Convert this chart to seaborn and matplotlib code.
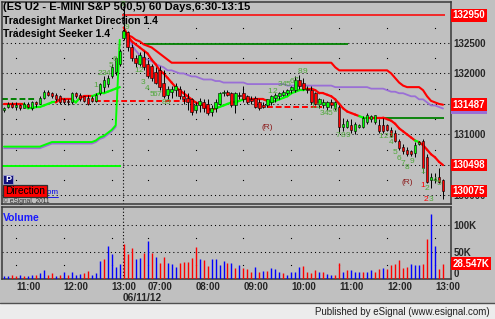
import numpy as np
import pandas as pd
import matplotlib
matplotlib.use("Agg")
import matplotlib.pyplot as plt
import matplotlib.transforms as mtrans
from matplotlib.patches import Rectangle
import seaborn as sns

sns.set_style("white")
plt.rcParams["font.family"] = ["Liberation Sans", "DejaVu Sans"]

# ---------------- data (ES U2 5-min bars, price in index points) ----------------
times = pd.date_range("2012-06-08 10:45", "2012-06-08 13:10", freq="5min").append(
    pd.date_range("2012-06-11 06:30", "2012-06-11 13:10", freq="5min"))

open_ = [1314.0, 1314.5, 1315.0, 1314.5, 1314.75, 1314.25, 1315.0, 1314.25, 1315.25, 1315.0,
         1316.0, 1317.0, 1316.75, 1316.5, 1316.25, 1315.75, 1315.5, 1315.25, 1316.75, 1316.5,
         1316.25, 1316.0, 1316.0, 1315.5, 1316.75, 1317.75, 1318.25, 1319.5, 1320.25, 1321.5,
         1325.75, 1326.75, 1324.25, 1322.5, 1321.5, 1322.75, 1321.5, 1321.25, 1320.25, 1320.5,
         1318.5, 1316.5, 1317.0, 1317.25, 1317.5, 1316.25, 1316.0, 1315.75, 1314.0, 1314.75,
         1315.25, 1315.0, 1313.75, 1314.25, 1315.0, 1316.75, 1317.0, 1316.75, 1314.75, 1316.5,
         1316.75, 1316.25, 1315.75, 1316.0, 1315.25, 1314.75, 1314.75, 1315.25, 1316.0, 1316.25,
         1316.5, 1316.75, 1317.25, 1317.25, 1319.0, 1318.5, 1317.5, 1317.25, 1316.75, 1315.0,
         1314.75, 1314.5, 1315.25, 1314.25, 1314.5, 1311.25, 1311.25, 1311.5, 1310.5, 1311.25,
         1311.25, 1312.0, 1312.5, 1312.0, 1311.5, 1311.5, 1311.5, 1310.75, 1310.25, 1309.0,
         1308.0, 1307.5, 1307.25, 1307.0, 1308.5, 1309.0, 1306.25, 1302.5, 1302.5, 1303.0,
         1302.5]
high = [1314.5, 1315.25, 1315.25, 1315.25, 1315.0, 1315.25, 1315.25, 1315.5, 1315.5, 1316.25,
        1317.25, 1317.25, 1317.0, 1316.75, 1316.5, 1316.0, 1315.75, 1317.0, 1317.0, 1316.75,
        1316.25, 1316.5, 1316.25, 1316.75, 1318.5, 1319.5, 1319.75, 1321.5, 1322.75, 1324.0,
        1331.5, 1327.0, 1324.75, 1323.0, 1323.5, 1323.75, 1322.25, 1321.5, 1321.0, 1321.25,
        1320.5, 1318.0, 1318.0, 1318.5, 1318.0, 1317.25, 1316.75, 1316.0, 1315.25, 1316.0,
        1315.75, 1315.75, 1314.75, 1315.75, 1317.0, 1317.25, 1317.25, 1317.0, 1317.0, 1317.0,
        1318.0, 1316.5, 1316.25, 1316.25, 1315.75, 1315.25, 1315.75, 1316.5, 1316.75, 1317.0,
        1317.25, 1317.5, 1318.0, 1319.5, 1319.75, 1319.25, 1318.0, 1318.0, 1317.0, 1316.0,
        1315.75, 1315.5, 1315.75, 1315.5, 1314.75, 1312.75, 1312.5, 1312.5, 1312.0, 1311.75,
        1313.0, 1313.5, 1313.25, 1313.25, 1312.5, 1312.75, 1311.75, 1311.25, 1310.75, 1309.25,
        1308.5, 1308.0, 1307.5, 1308.75, 1309.0, 1309.25, 1306.75, 1303.75, 1303.75, 1304.5,
        1302.75]
low = [1313.75, 1314.25, 1314.25, 1314.0, 1314.0, 1314.25, 1314.25, 1314.0, 1314.5, 1315.0,
       1315.75, 1316.25, 1316.0, 1315.5, 1315.0, 1315.0, 1314.75, 1315.0, 1316.0, 1315.5,
       1315.25, 1314.75, 1315.25, 1315.25, 1316.5, 1317.0, 1317.75, 1319.25, 1319.75, 1321.25,
       1325.5, 1323.75, 1322.0, 1321.0, 1321.25, 1320.5, 1319.25, 1318.75, 1318.25, 1317.25,
       1316.0, 1315.75, 1316.0, 1316.25, 1315.75, 1315.0, 1314.0, 1313.25, 1313.5, 1313.75,
       1313.75, 1313.25, 1313.0, 1313.75, 1314.75, 1316.25, 1316.25, 1314.5, 1313.5, 1315.75,
       1315.25, 1315.0, 1315.0, 1314.25, 1314.0, 1314.25, 1314.5, 1314.75, 1315.25, 1315.75,
       1316.25, 1316.5, 1316.75, 1317.0, 1317.5, 1317.25, 1316.75, 1315.0, 1314.75, 1314.25,
       1314.25, 1314.0, 1314.25, 1314.0, 1310.25, 1310.5, 1311.0, 1310.25, 1310.0, 1311.0,
       1311.0, 1311.75, 1312.0, 1311.75, 1310.25, 1310.25, 1310.5, 1309.5, 1308.75, 1307.5,
       1306.75, 1306.5, 1306.5, 1306.25, 1308.25, 1303.75, 1302.0, 1301.25, 1302.0, 1302.0,
       1299.5]
close = [1314.25, 1315.0, 1314.5, 1314.75, 1314.25, 1315.0, 1314.5, 1315.25, 1315.0, 1316.0,
         1317.0, 1316.5, 1316.25, 1315.75, 1315.25, 1315.25, 1315.25, 1316.75, 1316.25, 1315.75,
         1315.5, 1315.0, 1315.5, 1316.5, 1318.25, 1319.0, 1319.25, 1321.0, 1322.5, 1323.75,
         1327.0, 1324.25, 1322.5, 1321.75, 1323.0, 1321.0, 1319.5, 1319.25, 1318.5, 1317.75,
         1316.25, 1317.5, 1317.5, 1318.0, 1316.25, 1315.75, 1315.25, 1313.75, 1314.75, 1315.5,
         1314.25, 1313.5, 1314.25, 1315.25, 1316.75, 1317.0, 1316.5, 1314.75, 1316.75, 1316.25,
         1315.75, 1315.25, 1315.5, 1314.5, 1314.25, 1314.5, 1315.75, 1316.25, 1316.5, 1316.75,
         1317.0, 1317.25, 1317.75, 1319.0, 1318.0, 1317.5, 1317.25, 1315.25, 1315.0, 1315.75,
         1315.25, 1315.25, 1314.75, 1315.25, 1311.25, 1311.75, 1312.25, 1310.75, 1311.75, 1311.5,
         1312.75, 1313.25, 1313.0, 1313.25, 1310.5, 1310.5, 1310.75, 1309.75, 1309.0, 1307.75,
         1307.25, 1306.75, 1306.75, 1308.25, 1308.75, 1304.5, 1302.25, 1303.0, 1302.75, 1302.25,
         1300.75]

# volume in thousands, and bar direction (u = blue, d = red)
volume_k = [5.6, 5.6, 7.4, 5.6, 6.8, 5.6, 5.6, 6.8, 7.4, 11.7,
            16.7, 6.8, 11.7, 5.6, 6.8, 13.0, 7.4, 13.0, 6.8, 8.6,
            11.7, 14.8, 7.4, 11.7, 33.3, 37.6, 61.0, 46.9, 22.8, 27.0,
            65.4, 46.9, 56.8, 36.4, 39.5, 48.7, 70.3, 48.7, 41.3, 30.2,
            41.3, 30.2, 28.4, 22.2, 30.2, 31.5, 31.5, 39.5, 59.8, 37.6,
            34.6, 24.0, 36.4, 36.4, 26.0, 33.3, 29.0, 29.0, 19.7, 25.3,
            21.0, 19.0, 13.0, 22.0, 13.0, 14.8, 14.8, 19.7, 17.9, 13.0,
            11.7, 6.8, 13.0, 13.6, 22.8, 24.0, 13.0, 11.7, 16.7, 13.0,
            13.6, 9.9, 6.8, 7.4, 30.2, 13.0, 16.0, 16.7, 13.6, 13.0,
            13.0, 13.6, 16.7, 13.6, 19.0, 21.0, 17.9, 25.3, 27.0, 35.2,
            21.0, 22.2, 27.0, 26.0, 26.0, 28.4, 73.4, 119.7, 61.0, 17.9,
            28.547]
volume_dir = ("uudduduudu" "uddududuuu" "dduuuduuuu" "ddduududud" "duuudddddu"
              "dduuuududu" "dddududuuu" "duuuuddddu" "duudduduuu" "duuddudddd"
              "dduuudduud" "d")

# previous session indicator lines (bars 0..29)
trail_prev = [1315.0, 1315.0, 1315.0, 1315.0, 1315.0, 1315.0, 1314.25, 1314.25, 1314.5, 1314.5,
              1314.75, 1315.0, 1315.25, 1315.25, 1315.75, 1315.75, 1315.75, 1315.75, 1315.25, 1316.0,
              1316.25, 1316.25, 1316.25, 1316.5, 1316.75, 1316.75, 1317.0, 1317.25, 1317.5, 1317.75]
trail_prev_state = "rrrrrrggggggggrrrrggrrrggggggg"
lime_prev = [1308.0, 1308.0, 1308.0, 1308.0, 1308.0, 1308.0, 1308.0, 1308.0, 1308.0, 1308.0,
             1308.25, 1308.5, 1308.75, 1308.75, 1308.75, 1308.75, 1308.75, 1308.75, 1308.75, 1308.75,
             1308.75, 1308.75, 1308.75, 1309.0, 1309.5, 1309.75, 1310.25, 1310.75, 1311.5, 1325.5]
purple_prev = [1307.75, 1307.75, 1307.75, 1307.75, 1307.75, 1307.75, 1307.75, 1307.75, 1307.75, 1307.75,
               1308.0, 1308.25, 1308.5, 1308.5, 1308.5, 1308.5, 1308.5, 1308.5, 1308.5, 1308.5,
               1308.5, 1308.5, 1308.5, 1308.75, 1309.25, 1309.5, 1310.0, 1310.5, 1311.25]

# current session indicator lines (bars 30..110)
trail_cur = [1327.5, 1326.25, 1325.25, 1324.75, 1324.25, 1323.75, 1323.25, 1322.25, 1321.5, 1320.5,
             1320.0, 1319.25, 1318.5, 1317.75, 1317.25, 1316.75, 1316.25, 1315.75, 1315.25, 1315.0,
             1314.75, 1314.25, 1314.0, 1314.25, 1314.5, 1314.75, 1315.0, 1315.25, 1315.25, 1315.5,
             1315.75, 1315.75, 1315.75, 1315.75, 1315.75, 1315.75, 1315.5, 1315.25, 1315.5, 1315.75,
             1316.0, 1316.25, 1316.75, 1317.0, 1317.25, 1317.25, 1317.5, 1317.5, 1317.25, 1316.75,
             1316.75, 1316.5, 1316.25, 1315.75, 1315.0, 1314.25, 1313.75, 1313.5, 1313.25, 1313.0,
             1312.75, 1312.75, 1312.75, 1312.75, 1312.75, 1312.75, 1312.5, 1312.25, 1311.75, 1311.0,
             1310.5, 1310.0, 1309.5, 1309.0, 1308.75, 1308.25, 1307.5, 1306.75, 1306.25, 1305.5,
             1304.98]
trail_cur_state = ("rrrrrrrrrrrrrrrrrrrrrrrr" "gggggggg" "rrrrr" "gggggggggg"
                   "rrrrrrrrrrrrr" "gg" "rrrrrrrrrrrr" "g" "rrrrrr")
upper_cur = [1326.75, 1326.25, 1326.0, 1325.5, 1325.25, 1324.75, 1324.5, 1324.25, 1323.75, 1323.25,
             1322.75, 1322.25, 1321.75, 1321.75, 1321.75, 1321.75, 1321.75, 1321.75, 1321.75, 1321.75,
             1321.75, 1321.75, 1321.75, 1321.75, 1321.75, 1321.75, 1321.75, 1321.75, 1321.75, 1321.75,
             1321.75, 1321.75, 1321.75, 1321.75, 1321.75, 1321.75, 1321.75, 1321.75, 1321.75, 1321.75,
             1321.75, 1321.75, 1321.75, 1321.75, 1321.75, 1321.75, 1321.75, 1321.75, 1321.75, 1321.75,
             1321.75, 1321.75, 1321.75, 1321.0, 1320.5, 1320.5, 1320.5, 1320.5, 1320.5, 1320.5,
             1320.5, 1320.5, 1320.5, 1320.5, 1320.5, 1320.5, 1320.5, 1320.0, 1319.25, 1318.5,
             1318.0, 1317.75, 1317.75, 1317.75, 1317.75, 1317.25, 1316.25, 1315.5, 1315.25, 1315.0,
             1314.87]
purple_cur = [1326.75, 1325.75, 1324.75, 1323.75, 1323.0, 1322.5, 1322.25, 1322.0, 1321.5, 1321.25,
              1321.0, 1320.5, 1320.5, 1320.25, 1320.0, 1320.0, 1319.75, 1319.5, 1319.5, 1319.25,
              1319.0, 1319.0, 1319.0, 1318.75, 1318.75, 1318.5, 1318.5, 1318.5, 1318.5, 1318.5,
              1318.5, 1318.25, 1318.25, 1318.25, 1318.25, 1318.25, 1318.25, 1318.25, 1318.25, 1318.25,
              1318.25, 1318.0, 1318.0, 1318.0, 1318.0, 1318.0, 1318.0, 1318.0, 1318.0, 1318.0,
              1318.0, 1318.0, 1318.0, 1317.75, 1317.75, 1317.75, 1317.75, 1317.75, 1317.75, 1317.75,
              1317.75, 1317.75, 1317.5, 1317.5, 1317.5, 1317.5, 1317.25, 1317.0, 1317.0, 1316.75,
              1316.75, 1316.5, 1316.25, 1316.25, 1315.75, 1315.75, 1315.25, 1314.75, 1314.75, 1314.5,
              1314.25]

# horizontal levels: (price, first bar, last bar)
level_top = (1329.50, 29.5, 110.5)
levels_darkgreen = [(1324.75, 35.3, 86.2), (1312.75, 95.0, 110.3)]
level_lime = (1304.75, -0.5, 29.3)
level_green_dash = (1315.75, -0.5, 8.3)
levels_red_dash = [(1315.5, 22.8, 45.5), (1314.5, 66.0, 79.7)]

# setup-count labels: (text, bar, price, colour key)
count_labels = [
    ("1", 23.0, 1318.0, "g"), ("2", 24.0, 1320.0, "g"), ("3", 25.0, 1320.0, "g"), ("4", 26.0, 1320.0, "g"),
    ("5", 26.8, 1321.25, "g"), ("6", 27.8, 1322.25, "g"), ("7", 28.8, 1324.25, "g"), ("8", 29.8, 1331.3, "g"),
    ("9", 30.8, 1327.5, "g"),
    ("1", 33.2, 1320.5, "g"), ("2", 34.2, 1320.5, "g"), ("3", 34.7, 1318.5, "g"), ("4", 35.8, 1317.5, "g"),
    ("5", 37.0, 1316.5, "g"), ("6", 37.9, 1316.5, "g"), ("7", 38.8, 1316.5, "g"), ("8", 40.0, 1315.25, "g"),
    ("9", 41.1, 1315.25, "g"),
    ("1", 66.7, 1317.1, "g"), ("2", 67.9, 1317.1, "g"), ("3", 69.2, 1318.25, "g"), ("4", 70.2, 1318.25, "g"),
    ("5", 71.2, 1318.25, "g"), ("6", 72.2, 1318.6, "g"), ("7", 73.2, 1318.9, "g"), ("8", 74.2, 1320.25, "g"),
    ("9", 75.4, 1320.25, "g"),
    ("1", 77.4, 1314.5, "g"), ("2", 78.7, 1314.5, "g"), ("3", 79.7, 1313.4, "g"), ("4", 80.7, 1313.4, "g"),
    ("5", 81.7, 1313.4, "g"), ("6", 83.0, 1313.85, "g"),
    ("7", 83.7, 1309.9, "g"), ("8", 85.0, 1309.9, "g"), ("9", 86.2, 1309.9, "g"),
    ("1", 94.5, 1309.6, "g"), ("2", 95.7, 1309.6, "g"), ("3", 97.0, 1309.6, "g"), ("4", 97.0, 1308.6, "g"),
    ("5", 98.0, 1307.0, "g"), ("6", 99.0, 1306.0, "g"), ("7", 100.0, 1305.3, "g"), ("8", 101.0, 1304.5, "g"),
    ("9", 102.3, 1305.5, "g"),
    ("1", 105.0, 1303.85, "g"), ("1", 105.0, 1301.7, "r"), ("2", 106.0, 1301.2, "g"), ("4", 108.0, 1302.5, "g"),
    ("5", 109.0, 1302.0, "g"), ("2", 105.8, 1299.3, "r"), ("3", 107.0, 1299.4, "g"),
]
r_labels = [(65.9, 1311.2), (101.0, 1302.2)]

# ---------------- styling ----------------
BG = "#c0c0c0"
RED = "#ff0000"
LIME = "#00ff00"
PURPLE = "#9a6fd6"
DKGREEN = "#008000"
CNT_GREEN = "#4fa83a"
SPINE = "#383838"

W, H = 495, 319
fig = plt.figure(figsize=(W / 100, H / 100), dpi=100, facecolor=BG)


def frac(x0, y0, x1, y1):
    return [x0 / W, 1 - y1 / H, (x1 - x0) / W, (y1 - y0) / H]


ax = fig.add_axes(frac(2, 2, 451, 204))
axv = fig.add_axes(frac(2, 207, 451, 279), sharex=ax)

o = np.array(open_); h = np.array(high); l = np.array(low); c = np.array(close)
n = len(c)
xb = np.arange(n)
day_start = int(np.argmax(times.date != times.date[0]))
sep = day_start - 0.25
hour_idx = [i for i, t in enumerate(times) if t.minute == 0]
hour_lbl = [times[i].strftime("%H:%M") for i in hour_idx]

for a in (ax, axv):
    a.set_facecolor(BG)
    for s in a.spines.values():
        s.set_color(SPINE)
        s.set_linewidth(1.1)
    a.set_xlim(-0.5, 112)

# ---- price panel ----
ax.set_ylim(1298.6, 1331.7)
ax.yaxis.tick_right()
pticks = [1300, 1305, 1310, 1315, 1320, 1325]
ax.set_yticks(pticks, labels=[f"{v * 100:.0f}" for v in pticks])
ax.tick_params(axis="y", length=0, pad=2, labelsize=7)
for t in ax.get_yticklabels():
    t.set_fontweight("bold")
ax.tick_params(axis="x", length=0, labelbottom=False)
ax.grid(axis="y", linestyle=(0, (1, 3)), color="black", linewidth=0.75)
ax.grid(axis="x", visible=False)
# sparse vertical grid dots
mid_levels = [1302.5, 1307.5, 1312.5, 1317.5, 1322.5, 1327.5]
gx = [hx for hx in hour_idx for _ in mid_levels]
gy = [m for _ in hour_idx for m in mid_levels]
ax.plot(gx, gy, linestyle="none", marker="s", markersize=0.8, markeredgewidth=0,
        color="black", zorder=1)
ax.axvline(sep, linestyle=(0, (1, 2)), color="black", linewidth=0.8, zorder=1)

# horizontal levels
ax.hlines(level_top[0], level_top[1], level_top[2], color=RED, linewidth=1.1, zorder=2)
for lv, a0, a1 in levels_darkgreen:
    ax.hlines(lv, a0, a1, color=DKGREEN, linewidth=1.3, zorder=2)
ax.hlines(level_lime[0], level_lime[1], level_lime[2], color=LIME, linewidth=1.4, zorder=2)
ax.hlines(level_green_dash[0], level_green_dash[1], level_green_dash[2], color=DKGREEN,
          linewidth=1.4, linestyles=(0, (3, 1.5)), zorder=2)
for lv, a0, a1 in levels_red_dash:
    ax.hlines(lv, a0, a1, color=RED, linewidth=1.4, linestyles=(0, (3, 1.5)), zorder=2)

# prior-session lines
xp = xb[:day_start]
ax.plot(xp[:len(purple_prev)], purple_prev, color=PURPLE, linewidth=1.3, zorder=3)
ax.plot(xp, lime_prev, color=LIME, linewidth=1.4, zorder=3)
# session lines (seaborn)
xc = xb[day_start:]
sns.lineplot(x=xc, y=purple_cur, ax=ax, color=PURPLE, linewidth=1.3, legend=False,
             estimator=None, zorder=3)
sns.lineplot(x=xc, y=upper_cur, ax=ax, color=RED, linewidth=1.5, legend=False,
             estimator=None, zorder=3)

# trailing stop coloured by state
trail = np.array(trail_prev + trail_cur)
state = trail_prev_state + trail_cur_state
for i in range(1, n):
    if i == day_start:
        continue
    ax.plot([xb[i - 1], xb[i]], [trail[i - 1], trail[i]],
            color=LIME if state[i] == "g" else RED, linewidth=1.6,
            solid_capstyle="round", zorder=3)

# candles
up = c >= o
body_lo = np.minimum(o, c)
body_h = np.maximum(np.abs(c - o), 0.12)
ax.vlines(xb, l, h, color="black", linewidth=0.7, zorder=4)
ax.bar(xb, body_h, bottom=body_lo, width=0.62,
       color=np.where(up, LIME, RED), edgecolor="black", linewidth=0.4, zorder=5)

# count labels
for txt, bx, py, ck in count_labels:
    ax.text(bx, py, txt, fontsize=6, color=CNT_GREEN if ck == "g" else RED,
            ha="center", va="center", zorder=6)
for bx, py in r_labels:
    ax.text(bx, py, "(R)", fontsize=6, color="#8b1a1a", ha="center", va="center", zorder=6)

# titles
ax.text(0.002, 0.975, "(ES U2 - E-MINI S&P 500,5) 60 Days,6:30-13:15", transform=ax.transAxes,
        fontsize=8.1, fontweight="bold", ha="left", va="center", color="black", zorder=7)
ax.text(0.003, 0.906, "Tradesight Market Direction 1.4", transform=ax.transAxes,
        fontsize=7.5, fontweight="bold", ha="left", va="center", color="black", zorder=7)
ax.text(0.003, 0.842, "Tradesight Seeker 1.4", transform=ax.transAxes,
        fontsize=7.5, fontweight="bold", ha="left", va="center", color="black", zorder=7)

# lower-left widgets
def axfx(px):
    return (px - 2) / 449


def axfy(py):
    return (204 - py) / 202


ax.text(axfx(4), axfy(192.5), "Tradesight.com", transform=ax.transAxes, fontsize=5.8,
        color="#0000ee", ha="left", va="center", zorder=6)
ax.plot([axfx(44), axfx(58)], [axfy(196.5), axfy(196.5)], transform=ax.transAxes,
        color="#0000ee", linewidth=0.6, zorder=6)
ax.add_patch(Rectangle((axfx(3), axfy(184)), axfx(13) - axfx(3), axfy(175) - axfy(184),
                       transform=ax.transAxes, facecolor="#10107a", edgecolor="#a0a0d0",
                       linewidth=0.6, zorder=7))
ax.text(axfx(8), axfy(179.5), "P", transform=ax.transAxes, fontsize=6.5, fontweight="bold",
        color="white", ha="center", va="center", zorder=8)
ax.add_patch(Rectangle((axfx(3), axfy(197)), axfx(47) - axfx(3), axfy(185) - axfy(197),
                       transform=ax.transAxes, facecolor=RED, edgecolor="#303030",
                       linewidth=0.9, zorder=7))
ax.text(axfx(25), axfy(191), "Direction", transform=ax.transAxes, fontsize=7.3,
        color="black", ha="center", va="center", zorder=8)
ax.text(axfx(3), axfy(201.5), "\u00a9 eSignal, 2011", transform=ax.transAxes, fontsize=4.8,
        color="#303030", ha="left", va="center", zorder=8)

# right-side value boxes
def vbox(a, y, text, fc, tc="white"):
    a.text(1.004, y, text, transform=a.get_yaxis_transform(), ha="left", va="center",
           fontsize=7, fontweight="bold", color=tc, clip_on=False, zorder=10,
           bbox=dict(boxstyle="square,pad=0.14", facecolor=fc, edgecolor="none"))


vbox(ax, level_top[0], f"{level_top[0] * 100:.0f}", RED)
vbox(ax, upper_cur[-1] - 0.5, f"{purple_cur[-1] * 100:.0f}", PURPLE)
vbox(ax, upper_cur[-1], f"{upper_cur[-1] * 100:.0f}", RED)
vbox(ax, trail_cur[-1], f"{trail_cur[-1] * 100:.0f}", RED)
vbox(ax, close[-1], f"{close[-1] * 100:.0f}", RED)

# ---- volume panel ----
vol = np.array(volume_k)
vcol = ["#0000ff" if d == "u" else RED for d in volume_dir]
axv.set_ylim(0, 133.3)
axv.vlines(xb, 0, vol, colors=vcol, linewidth=1.0, zorder=3)
axv.yaxis.tick_right()
axv.set_yticks([0, 50, 100], labels=["0", "50K", "100K"])
axv.tick_params(axis="y", length=0, pad=2, labelsize=7)
for t in axv.get_yticklabels():
    t.set_fontweight("bold")
axv.get_yticklabels()[0].set_va("bottom")
axv.grid(axis="y", linestyle=(0, (1, 3)), color="black", linewidth=0.75)
axv.grid(axis="x", visible=False)
vgx = [hx for hx in hour_idx for _ in (25, 75)]
vgy = [m for _ in hour_idx for m in (25, 75)]
axv.plot(vgx, vgy, linestyle="none", marker="s", markersize=0.8, markeredgewidth=0,
         color="black", zorder=1)
axv.axvline(sep, linestyle=(0, (1, 2)), color="black", linewidth=0.8, zorder=1)
vbox(axv, vol[-1], f"{vol[-1]:.3f}K", RED)
axv.text(0.003, 0.85, "Volume", transform=axv.transAxes, fontsize=7.5, fontweight="bold",
         color="#1a1aff", ha="left", va="center", zorder=6)

axv.set_xticks(hour_idx, labels=hour_lbl)
axv.tick_params(axis="x", length=0, pad=2.5, labelsize=7)
for t in axv.get_xticklabels():
    t.set_ha("left")
    t.set_fontweight("bold")
axv.text(sep, -0.26, times[day_start].strftime("%m/%d/%y"),
         transform=mtrans.blended_transform_factory(axv.transData, axv.transAxes),
         fontsize=7.3, fontweight="bold", ha="left", va="center", clip_on=False)

# bottom status strip
fig.add_artist(Rectangle((0, 0), 1, 16 / H, transform=fig.transFigure,
                         facecolor="#ececec", edgecolor="none", zorder=0))
fig.add_artist(plt.Line2D([0, 1], [16 / H, 16 / H], transform=fig.transFigure,
                          color="#505050", linewidth=1.0))
fig.text(0.99, 7 / H, "Published by eSignal (www.esignal.com)", ha="right", va="center",
         fontsize=7, color="#202020")

fig.savefig("out.png", dpi=100, facecolor=BG)
